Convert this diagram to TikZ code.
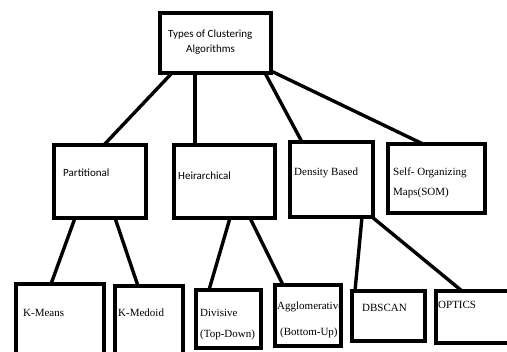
\documentclass[tikz,border=0pt]{standalone}
\usepackage{fontspec}
\setmainfont{Liberation Serif}
\newfontfamily\calib{Carlito}
\begin{document}
\begin{tikzpicture}[x=1pt,y=-1pt,
  box/.style={draw=black,line width=4pt,rectangle,inner sep=0pt,outer sep=0pt,fill=white},
  conn/.style={line width=3.4pt,line cap=butt},
  lbl/.style={anchor=west,inner sep=0pt,font=\fontsize{11}{13}\selectfont},
  clbl/.style={lbl,font=\calib\fontsize{11}{13}\selectfont}]
\useasboundingbox[fill=white] (0,0) rectangle (507,352);
% connector end points
\coordinate (t1) at (172,73);
\coordinate (t2) at (195,73);
\coordinate (t3) at (265,73);
\coordinate (t4) at (271,71);
\coordinate (pa) at (102,147);
\coordinate (he) at (195,145);
\coordinate (de) at (302,142);
\coordinate (so) at (423,144);
\coordinate (p1) at (75,218);
\coordinate (p2) at (115,218);
\coordinate (km) at (51,284);
\coordinate (kd) at (138,286);
\coordinate (h1) at (230,218);
\coordinate (h2) at (250,218);
\coordinate (dv) at (209,290);
\coordinate (ag) at (285,289);
\coordinate (d1) at (362,217);
\coordinate (d2) at (372,217);
\coordinate (db) at (355,291);
\coordinate (op) at (462,291);
\draw[conn] (t1) -- (pa);
\draw[conn] (t2) -- (he);
\draw[conn] (t3) -- (de);
\draw[conn] (t4) -- (so);
\draw[conn] (p1) -- (km);
\draw[conn] (p2) -- (kd);
\draw[conn] (h1) -- (dv);
\draw[conn] (h2) -- (ag);
\draw[conn] (d1) -- (db);
\draw[conn] (d2) -- (op);
% boxes
\node[box,minimum width=111pt,minimum height=60pt] (top) at (215.5,43) {};
\node[box,minimum width=92pt,minimum height=73pt] (part) at (100,181.5) {};
\node[box,minimum width=101pt,minimum height=73pt] (heir) at (224.5,181.5) {};
\node[box,minimum width=83pt,minimum height=75pt] (dens) at (331.5,179.5) {};
\node[box,minimum width=97pt,minimum height=69pt] (som) at (436.5,178.5) {};
\node[box,minimum width=88pt,minimum height=70pt] (kmeans) at (60,319) {};
\node[box,minimum width=68pt,minimum height=68pt] (kmed) at (149,320) {};
\node[box,minimum width=65pt,minimum height=58pt] (div) at (228.5,319) {};
\node[box,minimum width=66pt,minimum height=61pt] (agg) at (308,315.5) {};
\node[box,minimum width=73pt,minimum height=50pt] (dbscan) at (388.5,316) {};
\node[box,minimum width=76pt,minimum height=52pt] (optics) at (474,317) {};
% texts
\node[clbl] (tx1) at (168,35) {Types of Clustering};
\node[clbl] (tx2) at (186,50) {Algorithms};
\node[clbl] (tx3) at (63,173) {Partitional};
\node[clbl] (tx4) at (178,176) {Heirarchical};
\node[lbl] (tx5) at (294,173) {Density Based};
\node[lbl] (tx6) at (393,173) {Self- Organizing};
\node[lbl] (tx7) at (393,193) {Maps(SOM)};
\node[lbl] (tx8) at (23,313) {K-Means};
\node[lbl] (tx9) at (118,313) {K-Medoid};
\node[lbl] (tx10) at (200,313) {Divisive};
\node[lbl] (tx11) at (200,335) {(Top-Down)};
\node[lbl] (tx12) at (277,307) {Agglomerative};
\node[lbl] (tx13) at (280,333) {(Bottom-Up)};
\node[lbl] (tx14) at (362,308) {DBSCAN};
\node[lbl] (tx15) at (438,305) {OPTICS};
\end{tikzpicture}
\end{document}
